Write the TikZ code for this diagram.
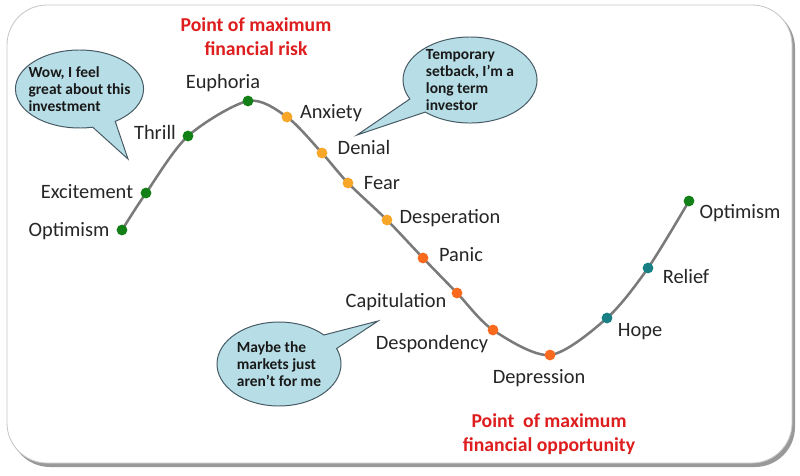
\documentclass[tikz,border=0pt]{standalone}
\usepackage{fontspec}
\setmainfont{Carlito}
\usetikzlibrary{shapes.callouts}
\definecolor{curvegray}{RGB}{122,122,122}
\definecolor{upgreen}{RGB}{18,128,22}
\definecolor{lorange}{RGB}{247,166,40}
\definecolor{dorange}{RGB}{250,106,30}
\definecolor{teal}{RGB}{24,128,132}
\definecolor{bubblefill}{RGB}{183,221,230}
\definecolor{bubbleedge}{RGB}{70,90,100}
\definecolor{riskred}{RGB}{222,30,30}

\begin{document}
\begin{tikzpicture}[x=0.025cm,y=-0.025cm,
  curve/.style={draw=curvegray,line width=1.8pt},
  dot/.style={circle,inner sep=0pt,minimum size=0.27cm},
  lbl/.style={anchor=mid,inner sep=0pt,text=black!85,font=\fontsize{14.5}{16}\selectfont},
  title/.style={align=center,inner sep=0pt,text=riskred,font=\fontsize{14}{17}\selectfont\bfseries},
  bubble/.style={ellipse callout,draw=bubbleedge,fill=bubblefill,line width=0.7pt,align=left,
    callout pointer arc=22,inner sep=-4pt,text=black!90,font=\fontsize{11}{12.2}\selectfont\bfseries}]
\useasboundingbox (0,0) rectangle (800,475);
\fill[black!40,rounded corners=1cm] (10.000,8.000) rectangle (795.000,467.000);
\draw[black!22,fill=white,line width=0.6pt,rounded corners=1cm] (7.000,5.000) rectangle (792.000,463.000);

\coordinate (p1) at (122.000,230.000);
\coordinate (p2) at (146.000,193.000);
\coordinate (p3) at (188.000,136.000);
\coordinate (p4) at (248.000,101.000);
\coordinate (p5) at (287.000,117.000);
\coordinate (p6) at (322.000,153.000);
\coordinate (p7) at (348.000,183.000);
\coordinate (p8) at (387.000,220.000);
\coordinate (p9) at (423.000,258.000);
\coordinate (p10) at (457.000,293.000);
\coordinate (p11) at (493.000,330.000);
\coordinate (p12) at (550.000,355.000);
\coordinate (p13) at (607.000,318.000);
\coordinate (p14) at (648.000,268.000);
\coordinate (p15) at (689.000,201.000);
\draw[curve] plot[smooth] coordinates {(p1) (p2) (p3) (p4) (p5) (p6) (p7) (p8) (p9) (p10) (p11) (p12) (p13) (p14) (p15)};

\node[dot,fill=upgreen] (d1) at (p1) {};
\node[dot,fill=upgreen] (d2) at (p2) {};
\node[dot,fill=upgreen] (d3) at (p3) {};
\node[dot,fill=upgreen] (d4) at (p4) {};
\node[dot,fill=lorange] (d5) at (p5) {};
\node[dot,fill=lorange] (d6) at (p6) {};
\node[dot,fill=lorange] (d7) at (p7) {};
\node[dot,fill=lorange] (d8) at (p8) {};
\node[dot,fill=dorange] (d9) at (p9) {};
\node[dot,fill=dorange] (d10) at (p10) {};
\node[dot,fill=dorange] (d11) at (p11) {};
\node[dot,fill=dorange] (d12) at (p12) {};
\node[dot,fill=teal] (d13) at (p13) {};
\node[dot,fill=teal] (d14) at (p14) {};
\node[dot,fill=upgreen] (d15) at (p15) {};

\node[lbl] (optimism) at (69.000,233.000) {Optimism};
\node[lbl] (excitement) at (87.000,195.000) {Excitement};
\node[lbl] (thrill) at (155.000,136.000) {Thrill};
\node[lbl] (euphoria) at (223.000,85.000) {Euphoria};
\node[lbl] (anxiety) at (331.000,115.000) {Anxiety};
\node[lbl] (denial) at (364.000,151.000) {Denial};
\node[lbl] (fear) at (382.000,186.000) {Fear};
\node[lbl] (desperation) at (450.000,220.000) {Desperation};
\node[lbl] (panic) at (461.000,258.000) {Panic};
\node[lbl] (capitulation) at (396.000,304.000) {Capitulation};
\node[lbl] (despondency) at (432.000,346.000) {Despondency};
\node[lbl] (depression) at (539.000,380.000) {Depression};
\node[lbl] (hope) at (640.000,333.000) {Hope};
\node[lbl] (relief) at (686.000,280.000) {Relief};
\node[lbl] (optimismb) at (740.000,215.000) {Optimism};

\node[title] (risk) at (256.000,37.000) {Point of maximum\\financial risk};
\node[title] (opportunity) at (549.000,434.000) {Point~ of maximum\\financial opportunity};

\coordinate (wowtip) at (128.000,159.000);
\coordinate (temptip) at (357.000,135.000);
\coordinate (maybetip) at (378.000,321.000);
\node[bubble,minimum width=3.125cm,minimum height=1.950cm,callout absolute pointer={(wowtip)}] (wow) at (79.500,89.000) {Wow, I feel\\great about this\\investment};
\node[bubble,minimum width=3.350cm,minimum height=2.150cm,callout absolute pointer={(temptip)}] (temporary) at (470.000,80.000) {Temporary\\setback, I’m a\\long term\\investor};
\node[bubble,minimum width=3.100cm,minimum height=2.100cm,callout absolute pointer={(maybetip)}] (maybe) at (279.000,364.000) {Maybe the\\markets just\\aren’t for me};
\end{tikzpicture}
\end{document}
